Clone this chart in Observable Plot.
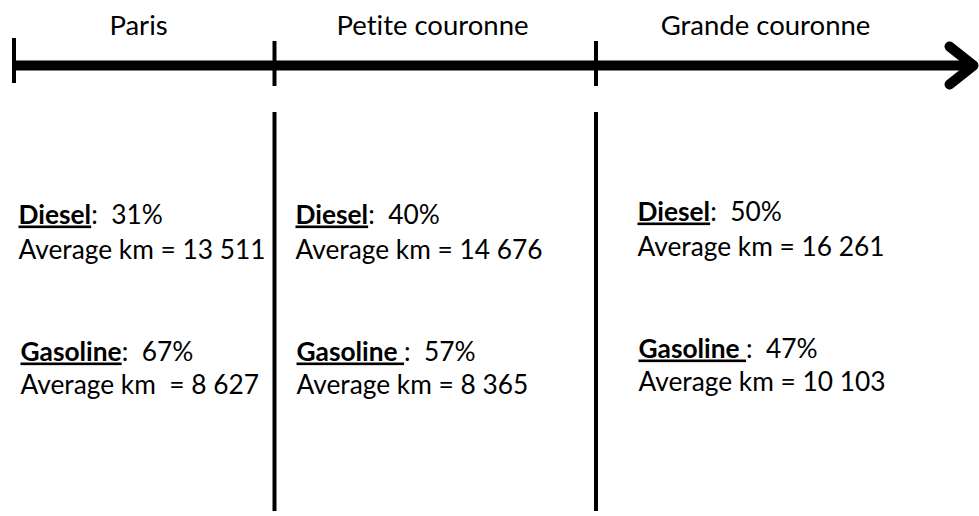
<!DOCTYPE html>
<html><head><meta charset="utf-8">
<script src="https://cdn.jsdelivr.net/npm/d3@7"></script>
<script src="https://cdn.jsdelivr.net/npm/@observablehq/plot@0.6"></script>
<style>
body{margin:0;background:#fff;}
svg text{white-space:pre;font-variant-ligatures:none;}
</style></head><body><div id="chart"></div>
<script>
// ---- data ----
const regions = ["Paris", "Petite couronne", "Grande couronne"];
const dieselShare = [31, 40, 50];
const dieselKm = [13511, 14676, 16261];
const gasolineShare = [67, 57, 47];
const gasolineKm = [8627, 8365, 10103];
const gasolineLabel = ["Gasoline", "Gasoline ", "Gasoline "];
const kmLabel = ["Average km  = ", "Average km = ", "Average km = "];

// ---- layout (pixel space) ----
const W = 979, H = 516;
const zoneEdges = [13.5, 274, 595.5];
const headerX = [138, 432, 765];
const headerY = 34;
const textX = [18, 295, 637];
const textDy = [0, 0, -3];
const lineY = [223, 258, 360, 393];
const axisY = 65;

const fmt = n => String(n).replace(/\B(?=(\d{3})+(?!\d))/g, " ");

const rows = [];
regions.forEach((r, i) => {
  rows.push({x: textX[i], y: lineY[0] + textDy[i], text: `Diesel:  ${dieselShare[i]}%`});
  rows.push({x: textX[i], y: lineY[1] + textDy[i], text: `Average km = ${fmt(dieselKm[i])}`});
  rows.push({x: textX[i] + (i === 0 ? 2 : 1), y: lineY[2] + textDy[i], text: `${gasolineLabel[i]}:  ${gasolineShare[i]}%`});
  rows.push({x: textX[i] + (i === 0 ? 2 : 1), y: lineY[3] + textDy[i], text: `${kmLabel[i]}${fmt(gasolineKm[i])}`});
});
const headers = regions.map((r, i) => ({x: headerX[i], y: headerY, text: r}));
const arrowHead = [{x: 949, y: 46}, {x: 973, y: axisY}, {x: 949, y: 84}];

const plot = Plot.plot({
  width: W, height: H,
  margin: 0,
  x: {domain: [0, W], range: [0, W], axis: null},
  y: {domain: [0, H], range: [0, H], axis: null},
  style: {fontFamily: "Lato, 'Open Sans', sans-serif", background: "#fff", color: "#000"},
  marks: [
    Plot.link([{x1: zoneEdges[0], x2: 973}], {x1: "x1", x2: "x2", y1: axisY, y2: axisY, stroke: "#000", strokeWidth: 10}),
    Plot.line(arrowHead, {x: "x", y: "y", stroke: "#000", strokeWidth: 10, strokeLinecap: "round", strokeLinejoin: "round"}),
    Plot.ruleX(zoneEdges, {y1: (d, i) => i === 0 ? 38 : 41, y2: (d, i) => i === 0 ? 83 : 86, stroke: "#000", strokeWidth: 4}),
    Plot.ruleX(zoneEdges.slice(1), {y1: 112, y2: 511, stroke: "#000", strokeWidth: 4}),
    Plot.text(headers, {x: "x", y: "y", text: "text", textAnchor: "middle", lineAnchor: "bottom", fontSize: 27.5, fill: "#000"}),
    Plot.text(rows, {x: "x", y: "y", text: "text", textAnchor: "start", lineAnchor: "bottom", fontSize: 26.3, fill: "#000"})
  ]
});

// bold + underline the fuel label part
d3.select(plot).selectAll("text").each(function() {
  const t = this.textContent;
  const k = t.indexOf(":");
  if (k < 0 || t.startsWith("Average")) return;
  const sel = d3.select(this);
  sel.text(null);
  sel.append("tspan").attr("font-weight", "bold").style("text-decoration", "underline").text(t.slice(0, k));
  sel.append("tspan").text(t.slice(k));
});

document.getElementById("chart").appendChild(plot);
</script>
</body></html>
